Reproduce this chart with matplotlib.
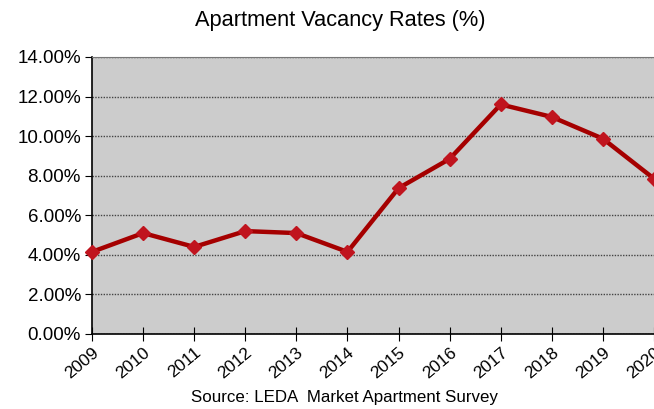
import numpy as np
import matplotlib.pyplot as plt
from matplotlib.ticker import FuncFormatter

plt.rcParams['font.family'] = ['Liberation Sans', 'DejaVu Sans']

# vacancy rates (%)
years = [2009, 2010, 2011, 2012, 2013, 2014, 2015, 2016, 2017, 2018, 2019, 2020]
rates = [4.15, 5.1, 4.4, 5.2, 5.1, 4.15, 7.37, 8.85, 11.6, 10.97, 9.87, 7.85]
yticks = [0, 2, 4, 6, 8, 10, 12, 14]

fig = plt.figure(figsize=(6.54, 4.09), dpi=100)
ax = fig.add_axes([0.1407, 0.1834, 0.8593, 0.6773])
ax.set_facecolor('#cccccc')

ax.plot(years, rates, color='#a50000', lw=3.2, marker='D', markersize=7.5,
        markerfacecolor='#c0141e', markeredgecolor='#c0141e', clip_on=False, zorder=3)

ax.set_xlim(2009, 2020)
ax.set_ylim(0, 14)
ax.set_yticks(yticks)
ax.yaxis.set_major_formatter(FuncFormatter(lambda v, p: '%.2f%%' % v))
ax.set_xticks(years)
ax.set_xticklabels([str(y) for y in years], rotation=40, ha='right', rotation_mode='anchor')

ax.yaxis.grid(True, color='#444444', linestyle=(0, (1, 1)), lw=1)
ax.set_axisbelow(True)

for s in ['left', 'bottom']:
    ax.spines[s].set_color('black')
    ax.spines[s].set_linewidth(1.2)
ax.spines['top'].set_color('#777777')
ax.spines['right'].set_visible(False)

ax.tick_params(axis='y', direction='out', length=5, labelsize=13.5, pad=3)
ax.tick_params(axis='x', direction='inout', length=10, labelsize=12.5, pad=3)

fig.text(0.521, 0.951, 'Apartment Vacancy Rates (%)', ha='center', va='center', fontsize=15.7)
fig.text(0.526, 0.029, 'Source: LEDA  Market Apartment Survey', ha='center', va='center', fontsize=12.2)

plt.savefig('out.png', dpi=100)
